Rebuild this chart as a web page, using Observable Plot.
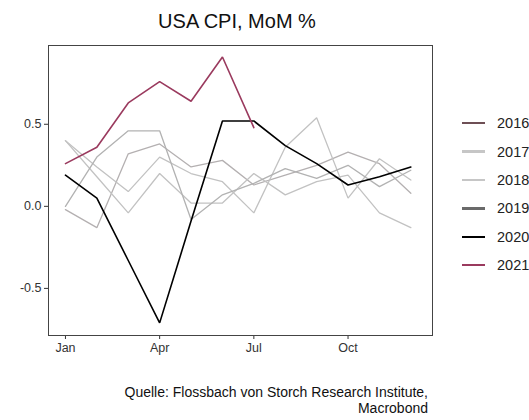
<!DOCTYPE html>
<html>
<head>
<meta charset="utf-8">
<script src="https://cdn.jsdelivr.net/npm/d3@7"></script>
<script src="https://cdn.jsdelivr.net/npm/@observablehq/plot@0.6"></script>
<style>
  html, body { margin: 0; padding: 0; background: #fff; }
  body { width: 529px; height: 420px; overflow: hidden; position: relative; font-family: "Liberation Sans", Arial, sans-serif; }
  #title { height: 30px; padding-top: 10px; width: 474px; text-align: center; font-size: 20px; line-height: 22px; color: #111; }
  #chart { position: absolute; left: 0; top: 40px; }
  #legend { position: absolute; left: 462px; top: 109px; }
  .item { height: 28.4px; display: flex; align-items: center; white-space: nowrap; }
  .sw { width: 23px; height: 2.5px; margin-right: 12px; }
  .lab { font-size: 14.5px; color: #222; }
  #caption { position: absolute; left: 0; top: 384px; width: 428px; text-align: right; font-size: 14px; line-height: 16px; color: #111; }
</style>
</head>
<body>
<div id="title">USA CPI, MoM %</div>
<div id="chart"></div>
<div id="legend"></div>
<div id="caption">Quelle: Flossbach von Storch Research Institute,<br>Macrobond</div>
<script>
const monthNames = ["Jan","Feb","Mar","Apr","May","Jun","Jul","Aug","Sep","Oct","Nov","Dec"];
const tickMonths = [0, 3, 6, 9];
const yTicks = [-0.5, 0, 0.5];

const years = ["2016","2017","2018","2019","2020","2021"];
const legendColors = ["#6e4f55","#c6c6c6","#c6c6c6","#6a6a6a","#000000","#9a3a5e"];
const lineColors = ["#b4b0b1","#c2c2c2","#c2c2c2","#b2b2b2","#000000","#9a3a5e"];
const widths = [1.3, 1.3, 1.3, 1.3, 1.6, 1.6];

const v2016 = [-0.02, -0.13, 0.32, 0.38, 0.24, 0.28, 0.13, 0.19, 0.25, 0.33, 0.26, 0.08];
const v2017 = [0.40, 0.24, 0.09, 0.30, 0.20, 0.15, -0.04, 0.36, 0.54, 0.05, 0.29, 0.16];
const v2018 = [0.40, 0.18, -0.04, 0.20, 0.02, 0.02, 0.20, 0.07, 0.15, 0.19, -0.04, -0.13];
const v2019 = [0.00, 0.30, 0.46, 0.46, -0.08, 0.07, 0.14, 0.23, 0.17, 0.25, 0.12, 0.22];
const v2020 = [0.19, 0.05, -0.33, -0.71, -0.09, 0.52, 0.52, 0.37, 0.26, 0.13, 0.18, 0.24];
const v2021 = [0.26, 0.36, 0.63, 0.76, 0.64, 0.91, 0.48];

const series = [v2016, v2017, v2018, v2019, v2020, v2021];
const rows = [];
series.forEach((vals, k) => vals.forEach((v, i) => rows.push({year: years[k], m: i, v})));

const marks = [Plot.frame({stroke: "#444", strokeWidth: 1})];
years.forEach((y, k) => {
  marks.push(Plot.line(rows.filter(r => r.year === y), {
    x: "m", y: "v", stroke: lineColors[k], strokeWidth: widths[k], strokeLinejoin: "miter"
  }));
});

const chart = Plot.plot({
  width: 440,
  height: 330,
  marginLeft: 48,
  marginRight: 8,
  marginTop: 5,
  marginBottom: 35,
  style: {fontSize: "12.5px", fontFamily: "Liberation Sans, Arial, sans-serif", color: "#333", background: "#fff"},
  x: {type: "linear", domain: [-0.54, 11.69], ticks: tickMonths, tickFormat: i => monthNames[i], tickSize: 4, tickPadding: 4, label: null},
  y: {domain: [-0.787, 0.98], ticks: yTicks, tickFormat: d => d.toFixed(1), tickSize: 4, tickPadding: 3, label: null},
  marks
});
document.getElementById("chart").appendChild(chart);

const legend = document.getElementById("legend");
years.forEach((y, k) => {
  const it = document.createElement("div");
  it.className = "item";
  const sw = document.createElement("div");
  sw.className = "sw";
  sw.style.background = legendColors[k];
  const lab = document.createElement("span");
  lab.className = "lab";
  lab.textContent = y;
  it.appendChild(sw);
  it.appendChild(lab);
  legend.appendChild(it);
});
</script>
</body>
</html>
